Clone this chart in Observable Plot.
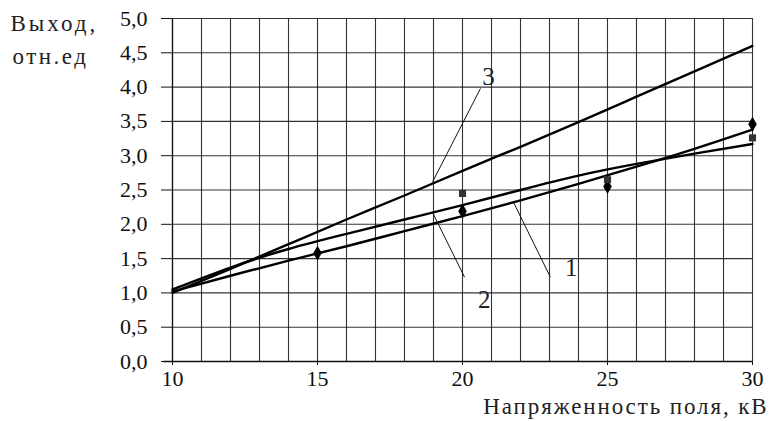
<!DOCTYPE html>
<html><head><meta charset="utf-8">
<script src="https://cdn.jsdelivr.net/npm/d3@7"></script>
<script src="https://cdn.jsdelivr.net/npm/@observablehq/plot@0.6"></script>
<style>
body{margin:0;background:#fff;}
#chart svg{font-family:"Liberation Serif","DejaVu Serif",serif;}
</style>
</head><body><div id="chart"></div>
<script>
// Field strength, kV (curve sample points)
const fieldKV = [10, 12, 14, 16, 18, 20, 22, 24, 26, 28, 30];
// Curve values (relative units)
const curve1 = [1.02, 1.25, 1.47, 1.68, 1.90, 2.12, 2.35, 2.59, 2.84, 3.10, 3.38];
const curve2 = [1.05, 1.37, 1.64, 1.86, 2.07, 2.28, 2.50, 2.71, 2.88, 3.03, 3.17];
const curve3 = [1.00, 1.35, 1.71, 2.07, 2.42, 2.78, 3.13, 3.49, 3.86, 4.23, 4.60];
// Measured points
const diamondX = [15, 20, 25, 30];
const diamondY = [1.58, 2.19, 2.55, 3.46];
const squareX = [20, 25, 30];
const squareY = [2.45, 2.65, 3.26];
// Curve labels and leader lines (data units)
const labelText = ["1", "2", "3"];
const labelX = [23.75, 20.75, 20.9];
const labelY = [1.37, 0.89, 4.14];
const leaderX1 = [23.03, 20.07, 20.62];
const leaderY1 = [1.23, 1.23, 3.98];
const leaderX2 = [21.76, 18.97, 18.97];
const leaderY2 = [2.32, 2.17, 2.62];
// Ticks
const xTicks = [10, 15, 20, 25, 30];
const xGrid = d3.range(10, 31, 1);
const yTicks = [0, 0.5, 1, 1.5, 2, 2.5, 3, 3.5, 4, 4.5, 5];
const yTitle1 = "Выход,";
const yTitle2 = "отн.ед";
const xTitle = "Напряженность поля, кВ";

const curves = [curve1, curve2, curve3].flatMap((arr, k) =>
  arr.map((v, i) => ({x: fieldKV[i], y: v, s: k + 1})));
const diamonds = diamondX.map((x, i) => ({x, y: diamondY[i]}));
const squares = squareX.map((x, i) => ({x, y: squareY[i]}));
const labels = labelText.map((t, i) => ({t, x: labelX[i], y: labelY[i],
  x1: leaderX1[i], y1: leaderY1[i], x2: leaderX2[i], y2: leaderY2[i]}));
const fmt = d => d.toFixed(1).replace(".", ",");

const chart = Plot.plot({
  width: 771, height: 421,
  marginLeft: 172, marginRight: 19, marginTop: 18, marginBottom: 60,
  style: {fontSize: "22px", fontFamily: "Liberation Serif, serif", color: "#111", background: "#fff"},
  x: {domain: [10, 30], ticks: xTicks, tickSize: 4, tickPadding: 5, tickFormat: d => d, label: null},
  y: {domain: [0, 5], ticks: yTicks, tickSize: 11, tickPadding: 14, tickFormat: fmt, label: null},
  marks: [
    Plot.gridX(xGrid, {stroke: "#111", strokeOpacity: 0.85, strokeWidth: 1.1}),
    Plot.gridY(yTicks, {stroke: "#111", strokeOpacity: 0.85, strokeWidth: 1.1}),
    Plot.ruleY([0], {x1: 9.7, x2: 30, stroke: "#111", strokeWidth: 1.3}),
    Plot.ruleX([10], {stroke: "#111", strokeWidth: 1.3}),
    Plot.line(curves, {x: "x", y: "y", z: "s", curve: "natural", stroke: "#000", strokeWidth: 2.4}),
    Plot.link(labels, {x1: "x1", y1: "y1", x2: "x2", y2: "y2", stroke: "#111", strokeWidth: 1}),
    Plot.text(labels, {x: "x", y: "y", text: "t", fontSize: 25, fill: "#222"}),
    Plot.dot(diamonds, {x: "x", y: "y", symbol: "diamond", r: 4.5, fill: "#000", stroke: null}),
    Plot.dot(squares, {x: "x", y: "y", symbol: "square", r: 4, fill: "#333", stroke: null}),
    Plot.text([yTitle1], {frameAnchor: "top-left", dx: -162, dy: 12, textAnchor: "start", lineAnchor: "bottom", fontSize: 23, fill: "#222"}),
    Plot.text([yTitle2], {frameAnchor: "top-left", dx: -160, dy: 45, textAnchor: "start", lineAnchor: "bottom", fontSize: 23, fill: "#222"}),
    Plot.text([xTitle], {frameAnchor: "bottom-right", dx: 16, dy: 52, textAnchor: "end", lineAnchor: "bottom", fontSize: 23, fill: "#222"})
  ]
});
chart.querySelectorAll("text").forEach(t => {
  const s = t.textContent;
  if (s === yTitle1) t.setAttribute("letter-spacing", "3");
  if (s === yTitle2) t.setAttribute("letter-spacing", "2.5");
  if (s === xTitle) t.setAttribute("letter-spacing", "1.9");
});
document.getElementById("chart").append(chart);
</script>
</body></html>
